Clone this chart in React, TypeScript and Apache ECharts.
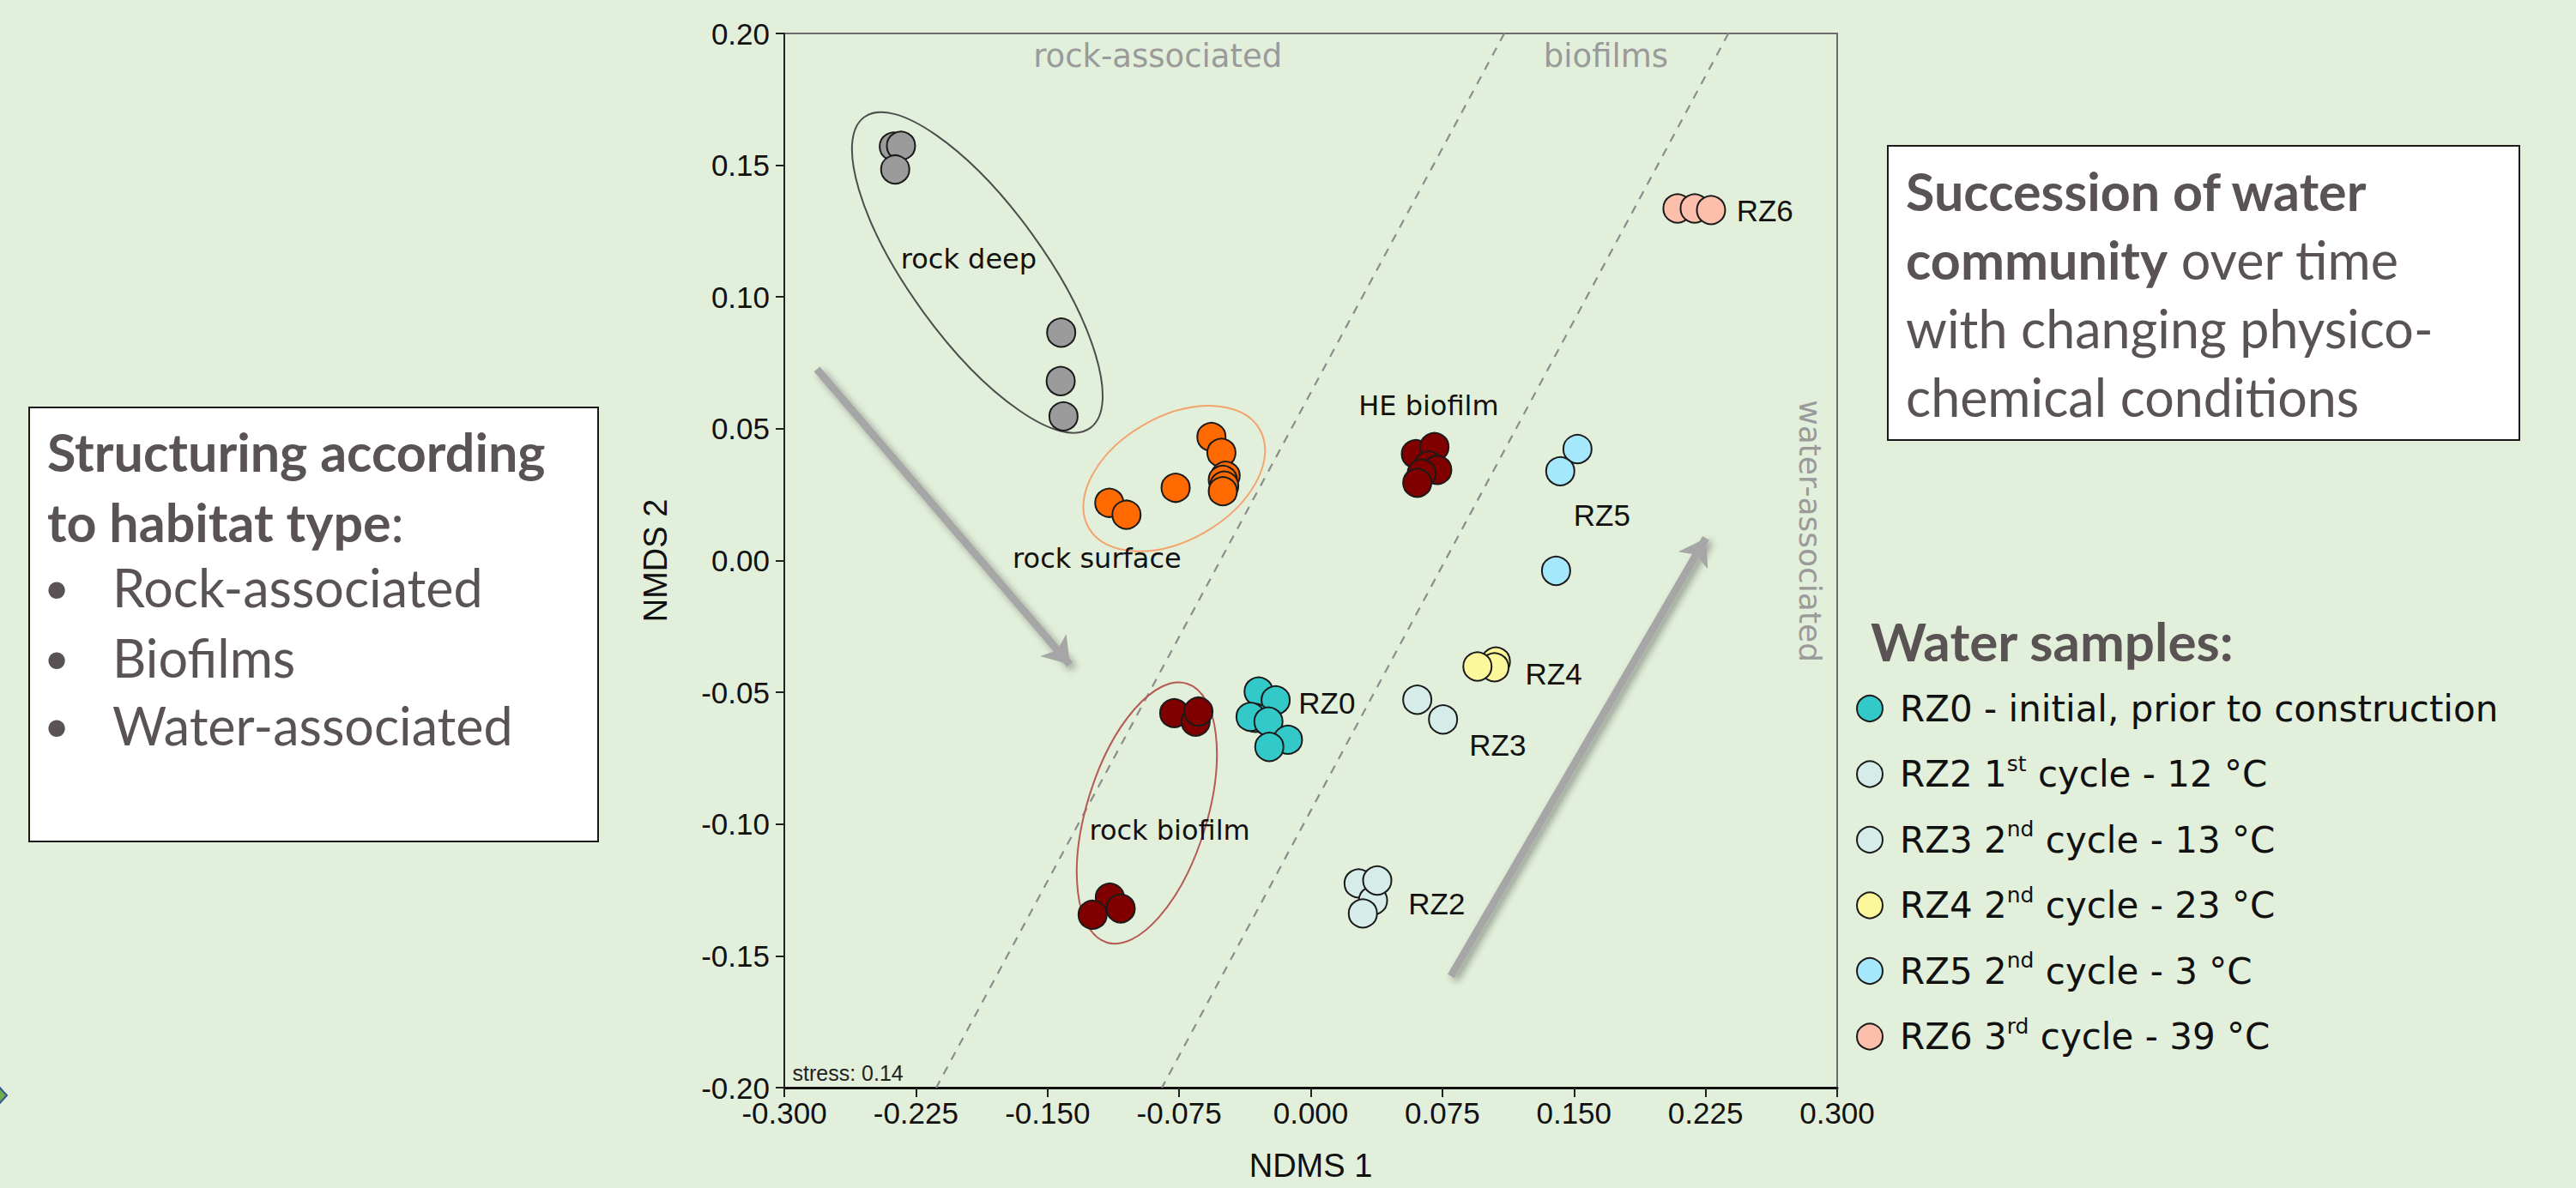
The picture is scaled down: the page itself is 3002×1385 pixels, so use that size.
import React, { useEffect, useRef } from 'react';
import * as echarts from 'echarts';

// ---------- axes ----------
const xMin = -0.3, xMax = 0.3, xStep = 0.075;
const yMin = -0.2, yMax = 0.2, yStep = 0.05;
const xTitle = 'NDMS 1';
const yTitle = 'NMDS 2';

// ---------- sample groups (NMDS1, NMDS2) ----------
const rockDeep = [[-0.2376, 0.1571], [-0.2335, 0.1574], [-0.2368, 0.1484], [-0.1422, 0.0865], [-0.1425, 0.0681], [-0.1409, 0.0547]];
const rockSurface = [[-0.1148, 0.0219], [-0.1050, 0.0174], [-0.0770, 0.0276], [-0.0566, 0.0469], [-0.0509, 0.0409], [-0.0485, 0.0322], [-0.0501, 0.0306], [-0.0493, 0.0284], [-0.0501, 0.0263]];
const heBiofilm = [[0.0599, 0.0404], [0.0705, 0.0431], [0.0672, 0.0361], [0.0721, 0.0344], [0.0632, 0.0330], [0.0607, 0.0295]];
const rockBiofilm = [[-0.0778, -0.0579], [-0.0656, -0.0611], [-0.0640, -0.0573], [-0.1145, -0.1279], [-0.1243, -0.1344], [-0.1083, -0.1320]];
const rz0 = [[-0.0297, -0.0497], [-0.0200, -0.0530], [-0.0314, -0.0597], [-0.0343, -0.0593], [-0.0241, -0.0611], [-0.0130, -0.0680], [-0.0236, -0.0707]];
const rz2 = [[0.0273, -0.1225], [0.0355, -0.1290], [0.0379, -0.1214], [0.0297, -0.1339]];
const rz3 = [[0.0607, -0.0528], [0.0754, -0.0603]];
const rz4 = [[0.1055, -0.0383], [0.1047, -0.0405], [0.0950, -0.0402]];
const rz5 = [[0.1520, 0.0423], [0.1422, 0.0339], [0.1398, -0.0039]];
const rz6 = [[0.2090, 0.1336], [0.2188, 0.1336], [0.2281, 0.1330]];

const groupNames = ['rock deep pts', 'rock surface pts', 'HE biofilm pts', 'rock biofilm pts', 'RZ0', 'RZ2', 'RZ3', 'RZ4', 'RZ5', 'RZ6'];
const groupData = [rockDeep, rockSurface, heBiofilm, rockBiofilm, rz0, rz2, rz3, rz4, rz5, rz6];
const groupColors = ['#9b9b9b', '#ff6a00', '#800000', '#800000', '#33c9c9', '#d5ece9', '#d5ece9', '#fdf79b', '#a6e8fb', '#fbbfab'];

// legend
const rzNames = ['RZ0', 'RZ2', 'RZ3', 'RZ4', 'RZ5', 'RZ6'];
const rzLegendLabels = [
  'RZ0 - initial, prior to construction',
  'RZ2 1{sup|st} cycle - 12 °C',
  'RZ3 2{sup|nd} cycle - 13 °C',
  'RZ4 2{sup|nd} cycle - 23 °C',
  'RZ5 2{sup|nd} cycle - 3 °C',
  'RZ6 3{sup|rd} cycle - 39 °C',
];

// ---------- annotations in data coordinates ----------
const clusterLabels = ['rock deep', 'rock surface', 'HE biofilm', 'rock biofilm'];
const clusterLabelPos = [[-0.1949, 0.1143], [-0.1218, 0.0007], [0.0672, 0.0586], [-0.0804, -0.1023]];
const rzLabels = ['RZ0', 'RZ2', 'RZ3', 'RZ4', 'RZ5', 'RZ6'];
const rzLabelPos = [[-0.0072, -0.0541], [0.0554, -0.1302], [0.0901, -0.0699], [0.1220, -0.0428], [0.1495, 0.0174], [0.2424, 0.1327]];
const zoneLabels = ['rock-associated', 'biofilms'];
const zoneLabelPos = [[-0.0872, 0.1915], [0.1682, 0.1915]];
const zoneLabelRotated = 'water-associated';
const zoneLabelRotatedPos = [0.2848, 0.0112];
const stressText = 'stress: 0.14';
const stressPos = [-0.2956, -0.1945];

// zone boundaries (dashed)
const boundary1 = [[0.1103, 0.2], [-0.2134, -0.2]];
const boundary2 = [[0.2380, 0.2], [-0.0848, -0.2]];
// arrows
const arrow1 = [[-0.2814, 0.0726], [-0.1372, -0.0395]];
const arrow2 = [[0.0799, -0.1577], [0.2252, 0.0085]];
// ellipses: center x, center y, semi-major px, semi-minor px, angle deg
const ellipses = [[-0.190, 0.1093, 224, 78, -54], [-0.0778, 0.0311, 115, 72, 30], [-0.0934, -0.0958, 158, 70, 72.8]];
const ellipseColors = ['#4d4d4d', '#f4a36e', '#b65a55'];

// ---------- text boxes ----------
const leftBoxLines = ['{b|Structuring according}', '{b|to habitat type}:'];
const leftBullets = ['Rock-associated', 'Biofilms', 'Water-associated'];
const rightBoxLines = ['{b|Succession of water}', '{b|community} over time', 'with changing physico-', 'chemical conditions'];
const legendTitle = 'Water samples:';

const BG = '#e2efda';
const BOX_TEXT = '#595353';
const BOX_FONT = 'Lato, "Open Sans", sans-serif';
const BOX_SIZE = 61;
const PLOT_FONT = '"Liberation Sans", Arial, sans-serif';
const LABEL_FONT = '"DejaVu Sans", sans-serif';

function buildOption() {
  const scatterSeries = groupData.map((d, i) => ({
    type: 'scatter',
    name: groupNames[i],
    data: d,
    symbol: 'circle',
    symbolSize: 33,
    itemStyle: { color: groupColors[i], borderColor: '#1a1a1a', borderWidth: 2, opacity: 1 },
    z: 5,
    silent: true,
  }));

  const labelSeries = (name: string, data: any[], label: any) => ({
    type: 'scatter',
    name,
    data,
    symbolSize: 1,
    silent: true,
    z: 6,
    itemStyle: { color: 'rgba(0,0,0,0)', borderWidth: 0 },
    label: { show: true, formatter: '{b}', opacity: 1, ...label },
  });

  return {
    animation: false,
    backgroundColor: BG,
    textStyle: { fontFamily: PLOT_FONT },
    grid: {
      left: 914, top: 39, width: 1227, height: 1229,
      show: true, borderColor: '#6b6b6b', borderWidth: 2, backgroundColor: 'transparent',
      containLabel: false, outerBoundsMode: 'none',
    },
    xAxis: {
      type: 'value', min: xMin, max: xMax, interval: xStep,
      name: xTitle, nameLocation: 'middle', nameGap: 72,
      nameTextStyle: { fontSize: 38, color: '#111', fontFamily: PLOT_FONT },
      axisLine: { show: true, onZero: false, lineStyle: { color: '#111', width: 3 } },
      axisTick: { show: true, length: 11, lineStyle: { color: '#222', width: 2 } },
      axisLabel: { fontSize: 35, color: '#111', margin: 12, formatter: (v: number) => v.toFixed(3), fontFamily: PLOT_FONT },
      splitLine: { show: false },
    },
    yAxis: {
      type: 'value', min: yMin, max: yMax, interval: yStep,
      name: yTitle, nameLocation: 'middle', nameGap: 131,
      nameTextStyle: { fontSize: 38, color: '#111', fontFamily: PLOT_FONT },
      axisLine: { show: true, onZero: false, lineStyle: { color: '#222', width: 2 } },
      axisTick: { show: true, length: 10, lineStyle: { color: '#222', width: 2 } },
      axisLabel: { fontSize: 35, color: '#111', margin: 17, formatter: (v: number) => v.toFixed(2), fontFamily: PLOT_FONT },
      splitLine: { show: false },
    },
    legend: {
      data: rzNames,
      orient: 'vertical', left: 2163, top: 801, padding: 0,
      itemWidth: 60, itemHeight: 30, itemGap: 26.5,
      icon: 'circle', selectedMode: false,
      formatter: (n: string) => rzLegendLabels[rzNames.indexOf(n)],
      textStyle: {
        fontFamily: LABEL_FONT, fontSize: 42, color: '#111', lineHeight: 50,
        rich: { sup: { fontFamily: LABEL_FONT, fontSize: 25, lineHeight: 26, color: '#111', verticalAlign: 'top' } },
      },
    },
    series: [
      {
        type: 'line', name: 'boundary1', data: boundary1, symbol: 'none', silent: true, z: 1,
        lineStyle: { color: '#8c8c8c', width: 2.2, type: [10, 9] },
      },
      {
        type: 'line', name: 'boundary2', data: boundary2, symbol: 'none', silent: true, z: 1,
        lineStyle: { color: '#8c8c8c', width: 2.2, type: [10, 9] },
      },
      {
        type: 'custom', name: 'ellipses', data: ellipses, silent: true, z: 2,
        encode: { x: 0, y: 1 },
        renderItem: (params: any, api: any) => {
          const c = api.coord([api.value(0), api.value(1)]);
          return {
            type: 'ellipse',
            x: c[0], y: c[1],
            rotation: (api.value(4) * Math.PI) / 180,
            shape: { cx: 0, cy: 0, rx: api.value(2), ry: api.value(3) },
            style: { fill: 'none', stroke: ellipseColors[params.dataIndex], lineWidth: 2 },
          };
        },
      },
      {
        type: 'lines', name: 'arrows', coordinateSystem: 'cartesian2d', silent: true, z: 3,
        symbol: ['none', 'arrow'], symbolSize: 30,
        lineStyle: { color: '#a6a6a6', width: 9, opacity: 1, shadowBlur: 8, shadowColor: 'rgba(0,0,0,0.35)', shadowOffsetX: 4, shadowOffsetY: 4 },
        data: [{ coords: arrow1 }, { coords: arrow2 }],
      },
      ...scatterSeries,
      labelSeries('clusterLabels', clusterLabels.map((t, i) => ({ name: t, value: clusterLabelPos[i] })), {
        position: 'inside', fontSize: 32, color: '#111', fontFamily: LABEL_FONT,
      }),
      labelSeries('rzLabels', rzLabels.map((t, i) => ({ name: t, value: rzLabelPos[i] })), {
        position: 'right', distance: 0, fontSize: 35, color: '#111', fontFamily: PLOT_FONT,
      }),
      labelSeries('zoneLabels', zoneLabels.map((t, i) => ({ name: t, value: zoneLabelPos[i] })), {
        position: 'inside', fontSize: 37, color: '#9a9a9a', fontFamily: LABEL_FONT,
      }),
      labelSeries('zoneLabelRot', [{ name: zoneLabelRotated, value: zoneLabelRotatedPos }], {
        position: 'inside', rotate: -90, fontSize: 36, color: '#9a9a9a', fontFamily: LABEL_FONT,
      }),
      labelSeries('stress', [{ name: stressText, value: stressPos }], {
        position: 'right', distance: 0, fontSize: 25, color: '#222', fontFamily: PLOT_FONT,
      }),
    ],
    graphic: [
      // left partial diamond
      {
        type: 'polygon', shape: { points: [[-16, 1277], [-4, 1264], [8, 1277], [-4, 1290]] },
        style: { fill: '#70ad47', stroke: '#2f5597', lineWidth: 2 }, silent: true,
      },
      // left box
      { type: 'rect', shape: { x: 34, y: 475, width: 663, height: 506 }, style: { fill: '#ffffff', stroke: '#1a1a1a', lineWidth: 2 }, silent: true },
      ...leftBoxLines.map((t, i) => ({
        type: 'text', silent: true,
        style: {
          text: t, x: 55, y: [526, 608][i], fill: BOX_TEXT,
          fontSize: BOX_SIZE, fontFamily: BOX_FONT,
          align: 'left', verticalAlign: 'middle', textAlign: 'left', textVerticalAlign: 'middle',
          rich: { b: { fontWeight: 'bold', fontSize: BOX_SIZE, fontFamily: BOX_FONT, fill: BOX_TEXT, color: BOX_TEXT } },
        },
      })),
      ...leftBullets.flatMap((t, i) => {
        const y = [684, 766, 845][i];
        return [
          {
            type: 'text', silent: true,
            style: { text: '•', x: 66, y, fill: BOX_TEXT, fontSize: 52, fontFamily: BOX_FONT, align: 'center', verticalAlign: 'middle', textAlign: 'center', textVerticalAlign: 'middle' },
          },
          {
            type: 'text', silent: true,
            style: { text: t, x: 131, y, fill: BOX_TEXT, fontSize: BOX_SIZE, fontFamily: BOX_FONT, align: 'left', verticalAlign: 'middle', textAlign: 'left', textVerticalAlign: 'middle' },
          },
        ];
      }),
      // right box
      { type: 'rect', shape: { x: 2200, y: 170, width: 736, height: 343 }, style: { fill: '#ffffff', stroke: '#1a1a1a', lineWidth: 2 }, silent: true },
      ...rightBoxLines.map((t, i) => ({
        type: 'text', silent: true,
        style: {
          text: t, x: 2221, y: [222, 302, 382, 462][i], fill: BOX_TEXT,
          fontSize: BOX_SIZE, fontFamily: BOX_FONT,
          align: 'left', verticalAlign: 'middle', textAlign: 'left', textVerticalAlign: 'middle',
          rich: { b: { fontWeight: 'bold', fontSize: BOX_SIZE, fontFamily: BOX_FONT, fill: BOX_TEXT, color: BOX_TEXT } },
        },
      })),
      // legend title
      {
        type: 'text', silent: true,
        style: {
          text: legendTitle, x: 2180, y: 747, fill: BOX_TEXT, fontSize: 62, fontWeight: 'bold', fontFamily: BOX_FONT,
          align: 'left', verticalAlign: 'middle', textAlign: 'left', textVerticalAlign: 'middle',
        },
      },
    ],
  };
}

export default function App() {
  const ref = useRef<HTMLDivElement>(null);
  useEffect(() => {
    if (!ref.current) return;
    const chart = echarts.init(ref.current, undefined, { renderer: 'svg' });
    chart.setOption(buildOption() as any);
    return () => chart.dispose();
  }, []);
  return (
    <div
      ref={ref}
      style={{ position: 'fixed', left: 0, top: 0, width: 3002, height: 1385, background: BG }}
    />
  );
}
